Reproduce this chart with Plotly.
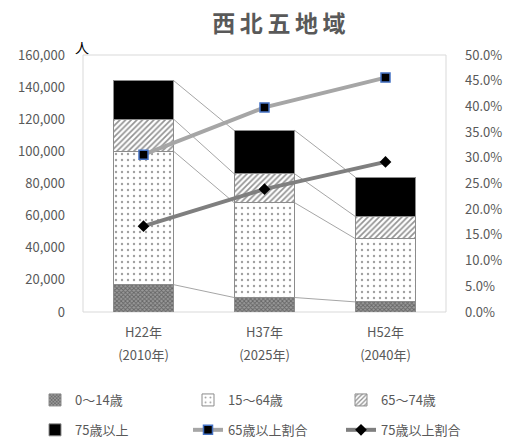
import plotly.graph_objects as go

# Population by age group (people) and elderly ratios
years_h = ["H22年", "H37年", "H52年"]
years_ad = ["(2010年)", "(2025年)", "(2040年)"]
age_0_14 = [17000, 9000, 6300]
age_15_64 = [83000, 59000, 39400]
age_65_74 = [20000, 18000, 13800]
age_75_plus = [24000, 27000, 24500]
ratio_65_plus = [0.306, 0.398, 0.456]
ratio_75_plus = [0.167, 0.239, 0.292]

x = list(range(len(years_h)))
FONT = "Noto Sans CJK JP"
GRAY_TXT = "#595959"
BAR_W = 0.5

fig = go.Figure()

bar_specs = [
    ("0～14歳", age_0_14, "legend",
     dict(shape="x", fgcolor="#303030", bgcolor="#9a9a9a", size=3, solidity=0.5)),
    ("15～64歳", age_15_64, "legend2",
     dict(shape=".", fgcolor="#404040", bgcolor="white", size=6, solidity=0.12)),
    ("65～74歳", age_65_74, "legend3",
     dict(shape="/", fgcolor="#262626", bgcolor="white", size=4, solidity=0.42)),
    ("75歳以上", age_75_plus, "legend", None),
]
for name, vals, leg, pat in bar_specs:
    marker = dict(color="black" if pat is None else "white",
                  line=dict(color="#8c8c8c", width=1))
    if pat is not None:
        marker["pattern"] = pat
    fig.add_trace(go.Bar(x=x, y=vals, name=name, width=BAR_W, marker=marker,
                         legend=leg, legendgroup=name))

# Series connector lines between neighbouring stacked bars
levels = []
running = [0] * len(x)
for vals in (age_0_14, age_15_64, age_65_74, age_75_plus):
    running = [r + v for r, v in zip(running, vals)]
    levels.append(list(running))
for lev in levels:
    for i in range(len(x) - 1):
        fig.add_trace(go.Scatter(
            x=[x[i] + BAR_W / 2, x[i + 1] - BAR_W / 2], y=[lev[i], lev[i + 1]],
            mode="lines", line=dict(color="#a6a6a6", width=1),
            showlegend=False, hoverinfo="skip"))

fig.add_trace(go.Scatter(
    x=x, y=ratio_65_plus, name="65歳以上割合", yaxis="y2", mode="lines+markers",
    line=dict(color="#a6a6a6", width=4), legend="legend2", legendgroup="r65",
    marker=dict(symbol="square", size=9, color="black", line=dict(color="#4472c4", width=1.5))))
fig.add_trace(go.Scatter(
    x=x, y=ratio_75_plus, name="75歳以上割合", yaxis="y2", mode="lines+markers",
    line=dict(color="#7f7f7f", width=4), legend="legend3", legendgroup="r75",
    marker=dict(symbol="diamond", size=9, color="black")))

# empty trace that carries the second row of category labels
fig.add_trace(go.Scatter(x=[], y=[], xaxis="x2", showlegend=False, hoverinfo="skip"))

legend_common = dict(orientation="v", yanchor="top", y=-0.284, xanchor="left",
                     traceorder="grouped", tracegroupgap=10, itemwidth=30,
                     font=dict(family=FONT, size=13, color=GRAY_TXT),
                     bgcolor="rgba(0,0,0,0)")

fig.update_layout(
    width=508, height=443,
    barmode="stack",
    plot_bgcolor="white", paper_bgcolor="white",
    margin=dict(l=83, r=62, t=55, b=131, autoexpand=False),
    font=dict(family=FONT, size=13, color=GRAY_TXT),
    title=dict(text="<b>西\u2009北\u2009五\u2009地\u2009域</b>", x=0.549, xanchor="center",
               y=0.945, yanchor="middle",
               font=dict(family=FONT, size=23, color=GRAY_TXT)),
    xaxis=dict(range=[-0.5, 2.5], tickmode="array", tickvals=x, ticktext=years_h,
               showgrid=False, zeroline=False, showline=False, ticks="", automargin=False,
               ticklabelstandoff=11, tickfont=dict(size=13, color=GRAY_TXT)),
    xaxis2=dict(range=[-0.5, 2.5], tickmode="array", tickvals=x, ticktext=years_ad,
                overlaying="x", side="bottom", anchor="y", automargin=False,
                showgrid=False, zeroline=False, showline=False, ticks="",
                ticklabelstandoff=34, tickfont=dict(size=13, color=GRAY_TXT)),
    yaxis=dict(range=[0, 160000], dtick=20000, tickformat=",", showgrid=False,
               zeroline=False, showline=False, ticks="", ticklabelstandoff=17,
               automargin=False, tickfont=dict(size=13, color=GRAY_TXT)),
    yaxis2=dict(range=[0, 0.5], dtick=0.05, tickformat=".1%", overlaying="y", side="right",
                showgrid=False, zeroline=False, showline=False, ticklabelstandoff=18,
                automargin=False, tickfont=dict(size=13, color=GRAY_TXT)),
    legend=dict(x=(35 - 83) / 363, **legend_common),
    legend2=dict(x=(188 - 83) / 363, **legend_common),
    legend3=dict(x=(341 - 83) / 363, **legend_common),
    showlegend=True,
    shapes=[dict(type="rect", xref="paper", yref="paper", x0=0, x1=1, y0=0, y1=1,
                 line=dict(color="#d9d9d9", width=1), fillcolor="rgba(0,0,0,0)", layer="below")],
    annotations=[dict(text="人", xref="paper", yref="paper", x=-0.003, y=1.031,
                      xanchor="center", yanchor="middle", showarrow=False,
                      font=dict(family=FONT, size=14, color="black"))],
)

fig.write_html("out.html")
